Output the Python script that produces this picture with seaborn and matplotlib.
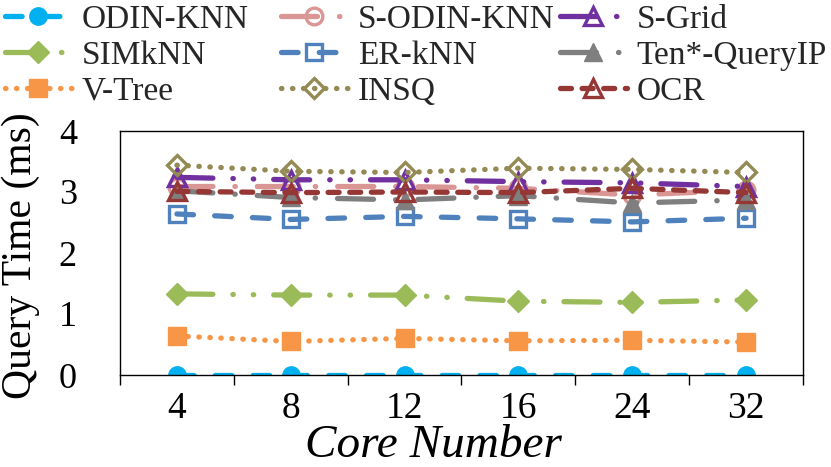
import numpy as np
import pandas as pd
import matplotlib
matplotlib.use("Agg")
import matplotlib.pyplot as plt
import seaborn as sns

# ---------------- data ----------------
cores = ["4", "8", "12", "16", "24", "32"]
y_ticks = [0, 1, 2, 3, 4]
odin_knn = [0.0, 0.0, 0.0, 0.0, 0.0, 0.0]
s_odin_knn = [3.09, 3.09, 3.09, 3.06, 2.95, 3.03]
s_grid = [3.24, 3.20, 3.20, 3.17, 3.15, 3.09]
simknn = [1.33, 1.31, 1.31, 1.21, 1.19, 1.23]
er_knn = [2.64, 2.55, 2.60, 2.56, 2.51, 2.57]
ten_queryip = [3.02, 2.91, 2.87, 2.94, 2.82, 2.87]
v_tree = [0.64, 0.55, 0.60, 0.56, 0.57, 0.54]
insq = [3.44, 3.34, 3.32, 3.39, 3.37, 3.32]
ocr = [3.01, 2.99, 3.00, 2.99, 3.06, 2.99]

series_names = ["ODIN-KNN", "S-ODIN-KNN", "S-Grid", "SIMkNN", "ER-kNN",
                "Ten*-QueryIP", "V-Tree", "INSQ", "OCR"]
series_values = [odin_knn, s_odin_knn, s_grid, simknn, er_knn,
                 ten_queryip, v_tree, insq, ocr]

# ---------------- style ----------------
sns.set_theme(style="white")
plt.rcParams["font.family"] = ["Liberation Serif", "DejaVu Serif"]
plt.rcParams["lines.scale_dashes"] = False
plt.rcParams["lines.dash_capstyle"] = "round"
plt.rcParams["lines.solid_capstyle"] = "round"

PX = 0.72  # px -> pt at 100 dpi
def pat(*px):
    return (0, tuple(v * PX for v in px))

dash = pat(16.6, 21.2)
sysdash = pat(11.0, 10.6)
sysdot = pat(0.4, 10.6)
lgdashdot = pat(36, 22, 0.4, 22)
lgdashdotdot = pat(36, 20, 0.4, 20, 0.4, 20)

# name: color, marker, filled, markersize, linestyle
styles = {
    "ODIN-KNN": ("#00B0F0", "o", True, 12.5, dash),
    "S-ODIN-KNN": ("#D99694", "o", False, 12, lgdashdot),
    "S-Grid": ("#7030A0", "^", False, 12.5, lgdashdotdot),
    "SIMkNN": ("#9BBB59", "D", True, 11.5, lgdashdotdot),
    "ER-kNN": ("#4F81BD", "s", False, 12, dash),
    "Ten*-QueryIP": ("#7F7F7F", "^", True, 13, lgdashdot),
    "V-Tree": ("#F79646", "s", True, 12.5, sysdot),
    "INSQ": ("#948A54", "D", False, 10, sysdot),
    "OCR": ("#953735", "^", False, 12.5, sysdash),
}

fig = plt.figure(figsize=(8.31, 4.67), dpi=100)
ax = fig.add_axes([120 / 831, 1 - 375 / 467, (803 - 120) / 831, (375 - 131) / 467])

xpos = np.arange(len(cores))
for name, vals in zip(series_names, series_values):
    color, marker, filled, ms, ls = styles[name]
    sns.lineplot(
        x=xpos, y=vals, ax=ax, color=color, linewidth=3.8, linestyle=ls,
        marker=marker, markersize=ms,
        markerfacecolor=color if filled else "none",
        markeredgecolor=color,
        markeredgewidth=1.0 if filled else 2.4,
        label=name, legend=False, sort=False, errorbar=None,
    )

# axes
ax.set_xlim(-0.5, len(cores) - 0.5)
ax.set_ylim(0, 4)
ax.set_xticks(xpos, labels=cores)
ax.set_xticks(np.arange(-0.5, len(cores)), minor=True)
ax.set_yticks(y_ticks, labels=[str(t) for t in y_ticks])
ax.tick_params(axis="x", which="major", length=0, pad=12, labelsize=27, labelcolor="black")
ax.tick_params(axis="x", which="minor", bottom=True, length=7, width=1.0,
               direction="out", color="black")
ax.tick_params(axis="y", which="major", length=0, pad=31, labelsize=26, labelcolor="black")
for sp in ax.spines.values():
    sp.set_visible(True)
    sp.set_color("black")
    sp.set_linewidth(1.0)
ax.grid(False)
ax.set_xlabel("")
ax.set_ylabel("")

fig.text(433 / 831, 1 - 457 / 467, "Core Number", ha="center", va="baseline",
         fontsize=34, style="italic", color="black")
fig.text(21 / 831, 1 - 256 / 467, "Query Time (ms)", rotation=90, ha="center",
         va="center", fontsize=30, color="black")

# legend: three columns, placed like the reference
handles, labels = ax.get_legend_handles_labels()
hmap = dict(zip(labels, handles))
columns = [["ODIN-KNN", "SIMkNN", "V-Tree"],
           ["S-ODIN-KNN", "ER-kNN", "INSQ"],
           ["S-Grid", "Ten*-QueryIP", "OCR"]]
col_x = [5 / 831, 281 / 831, 560 / 831]
for col, x0 in zip(columns, col_x):
    fig.legend([hmap[n] for n in col], col, loc="upper left",
               bbox_to_anchor=(x0, 1 - 4 / 467), frameon=False, borderpad=0,
               borderaxespad=0, handlelength=2.0, handletextpad=0.3,
               labelspacing=0.17, fontsize=24, numpoints=1)

fig.savefig("out.png", dpi=100)
